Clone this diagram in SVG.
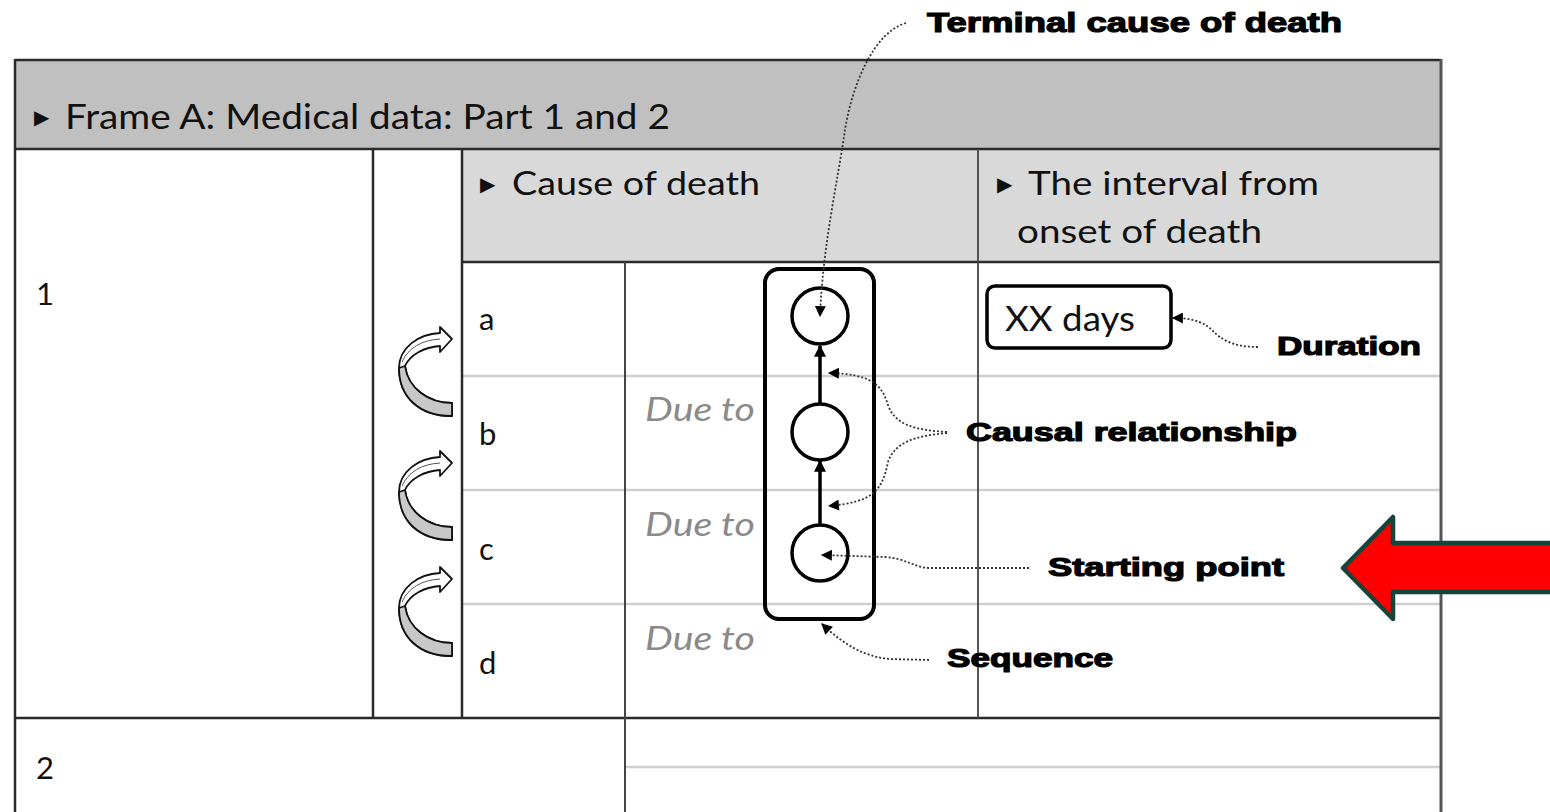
<svg xmlns="http://www.w3.org/2000/svg" xmlns:xlink="http://www.w3.org/1999/xlink" width="1550" height="812" viewBox="0 0 1550 812">
<style>
.t{font-family:Lato,"Open Sans","Liberation Sans",sans-serif;fill:#111}
.tri{font-family:"DejaVu Sans",sans-serif;fill:#111;font-size:20px}
.due{font-family:Lato,"Open Sans","Liberation Sans",sans-serif;font-style:italic;fill:#8a8a8a;font-size:33px}
.lbl{font-family:"Liberation Sans",Arial,sans-serif;font-weight:bold;fill:#000;stroke:#000;stroke-width:1.2}
.dark{stroke:#2a2a2a;stroke-width:2.5;fill:none}
.light{stroke:#cfcfcf;stroke-width:2.5;fill:none}
.dot{stroke:#333;stroke-width:1.8;stroke-dasharray:2 2;fill:none}
.solid{stroke:#000;stroke-width:3.5;fill:none}
.circ{stroke:#000;stroke-width:3.5;fill:#fff}
</style>
<defs>
<marker id="ah" viewBox="0 0 10 10" refX="9" refY="5" markerWidth="13" markerHeight="11" markerUnits="userSpaceOnUse" orient="auto">
<path d="M0,0 L10,5 L0,10 Z" fill="#000"/>
</marker>
<marker id="ahs" viewBox="0 0 10 10" refX="9" refY="5" markerWidth="12" markerHeight="12" markerUnits="userSpaceOnUse" orient="auto">
<path d="M0,0 L10,5 L0,10 Z" fill="#000"/>
</marker>
<g id="curl">
<path d="M452,416 C418,416 399,396 399,368 C399,348 418,334 440,333 L440,327 L452,339 L440,352 L440,346 C424,347 410,355 405,366 C408,388 428,403 452,403 Z" fill="#fff" stroke="#111" stroke-width="1.8" stroke-linejoin="round"/>
<path d="M399,368 C399,396 418,416 452,416 L452,403 C428,403 408,388 405,366 Z" fill="#c8c8c8" stroke="#111" stroke-width="1.8" stroke-linejoin="round"/>
<path d="M402,362 C408,348 422,340 440,339" fill="none" stroke="#555" stroke-width="1"/>
</g>
</defs>
<rect width="1550" height="812" fill="#fff"/>

<g id="table">
<rect x="15" y="60" width="1426" height="89" fill="#c0c0c0"/>
<rect x="462" y="149" width="979" height="113" fill="#d9d9d9"/>
<line class="light" x1="462" y1="376" x2="1441" y2="376"/>
<line class="light" x1="462" y1="490" x2="1441" y2="490"/>
<line class="light" x1="462" y1="604" x2="1441" y2="604"/>
<line class="light" x1="625" y1="767" x2="1441" y2="767"/>
<line class="dark" x1="15" y1="60" x2="1441" y2="60"/>
<line class="dark" x1="15" y1="149" x2="1441" y2="149"/>
<line class="dark" x1="462" y1="262" x2="1441" y2="262"/>
<line class="dark" x1="15" y1="718" x2="1441" y2="718"/>
<line class="dark" x1="15" y1="59" x2="15" y2="812"/>
<line class="dark" x1="1441" y1="59" x2="1441" y2="812" style="stroke:#555;stroke-width:3"/>
<line class="dark" x1="373" y1="149" x2="373" y2="718"/>
<line class="dark" x1="462" y1="149" x2="462" y2="718"/>
<line class="dark" x1="978" y1="149" x2="978" y2="718" style="stroke:#444;stroke-width:1.8"/>
<line class="dark" x1="625" y1="262" x2="625" y2="812" style="stroke:#444;stroke-width:2"/>
</g>

<g id="header">
<text class="tri" x="34" y="124">▶</text>
<text class="t" x="65" y="129" font-size="35" textLength="605" lengthAdjust="spacingAndGlyphs">Frame A: Medical data: Part 1 and 2</text>
</g>
<g id="cause-header">
<text class="tri" x="480" y="191">▶</text>
<text class="t" x="512" y="195" font-size="32" textLength="248" lengthAdjust="spacingAndGlyphs">Cause of death</text>
</g>
<g id="interval-header">
<text class="tri" x="997" y="191">▶</text>
<text class="t" x="1028" y="195" font-size="32" textLength="291" lengthAdjust="spacingAndGlyphs">The interval from</text>
<text class="t" x="1017" y="243" font-size="32" textLength="245" lengthAdjust="spacingAndGlyphs">onset of death</text>
</g>
<g id="row-labels">
<text class="t" x="36" y="305" font-size="31">1</text>
<text class="t" x="36" y="779" font-size="31">2</text>
<text class="t" x="479" y="330" font-size="31">a</text>
<text class="t" x="479" y="445" font-size="31">b</text>
<text class="t" x="479" y="560" font-size="31">c</text>
<text class="t" x="479" y="674" font-size="31">d</text>
</g>
<g id="due-to">
<text class="due" x="645" y="421" textLength="110" lengthAdjust="spacingAndGlyphs">Due to</text>
<text class="due" x="645" y="536" textLength="110" lengthAdjust="spacingAndGlyphs">Due to</text>
<text class="due" x="645" y="650" textLength="110" lengthAdjust="spacingAndGlyphs">Due to</text>
</g>
<g id="curl-arrows">
<use xlink:href="#curl" href="#curl"/>
<use xlink:href="#curl" href="#curl" transform="translate(0,124)"/>
<use xlink:href="#curl" href="#curl" transform="translate(0,240)"/>
</g>

<g id="sequence-box">
<rect x="765" y="269" width="109" height="350" rx="14" fill="none" stroke="#000" stroke-width="4"/>
</g>
<g id="circle-a"><circle class="circ" cx="820" cy="316" r="28"/></g>
<g id="circle-b"><circle class="circ" cx="820" cy="432" r="28"/></g>
<g id="circle-c"><circle class="circ" cx="820" cy="553" r="28"/></g>
<g id="xx-days">
<rect x="987" y="286" width="184" height="62" rx="8" fill="#fff" stroke="#000" stroke-width="3.5"/>
<text class="t" x="1005" y="331" font-size="34" textLength="130" lengthAdjust="spacingAndGlyphs">XX days</text>
</g>

<g id="labels">
<text class="lbl" x="927" y="32" font-size="28" textLength="415" lengthAdjust="spacingAndGlyphs">Terminal cause of death</text>
<text class="lbl" x="1277" y="355" font-size="26" textLength="144" lengthAdjust="spacingAndGlyphs">Duration</text>
<text class="lbl" x="966" y="441" font-size="26" textLength="331" lengthAdjust="spacingAndGlyphs">Causal relationship</text>
<text class="lbl" x="1048" y="576" font-size="26" textLength="236" lengthAdjust="spacingAndGlyphs">Starting point</text>
<text class="lbl" x="947" y="667" font-size="26" textLength="166" lengthAdjust="spacingAndGlyphs">Sequence</text>
</g>

<g id="connectors">
<line class="solid" x1="820" y1="404" x2="820" y2="346" marker-end="url(#ahs)"/>
<line class="solid" x1="820" y1="525" x2="820" y2="461" marker-end="url(#ahs)"/>
<path class="dot" d="M906,23 C874,32 852,85 845,130 C837,185 823,245 820,316" marker-end="url(#ah)"/>
<path class="dot" d="M1258,347 C1232,347 1221,339 1213,331 C1205,323 1195,318 1173,318" marker-end="url(#ah)"/>
<path class="dot" d="M947,432 C915,430 895,425 888,405 C882,385 872,374 829,373" marker-end="url(#ah)"/>
<path class="dot" d="M947,433 C915,436 895,442 888,462 C882,492 872,502 829,506" marker-end="url(#ah)"/>
<path class="dot" d="M1029,568 L930,568 C915,568 905,558 885,557 L822,555" marker-end="url(#ah)"/>
<path class="dot" d="M929,660 L890,659 C866,657 845,646 822,624" marker-end="url(#ah)"/>
</g>

<g id="red-arrow">
<path d="M1343,568 L1393,517 L1393,543 L1556,543 L1556,592 L1393,592 L1393,619 Z" fill="#ff0000" stroke="#17443a" stroke-width="4.5" stroke-linejoin="round"/>
</g>
</svg>
